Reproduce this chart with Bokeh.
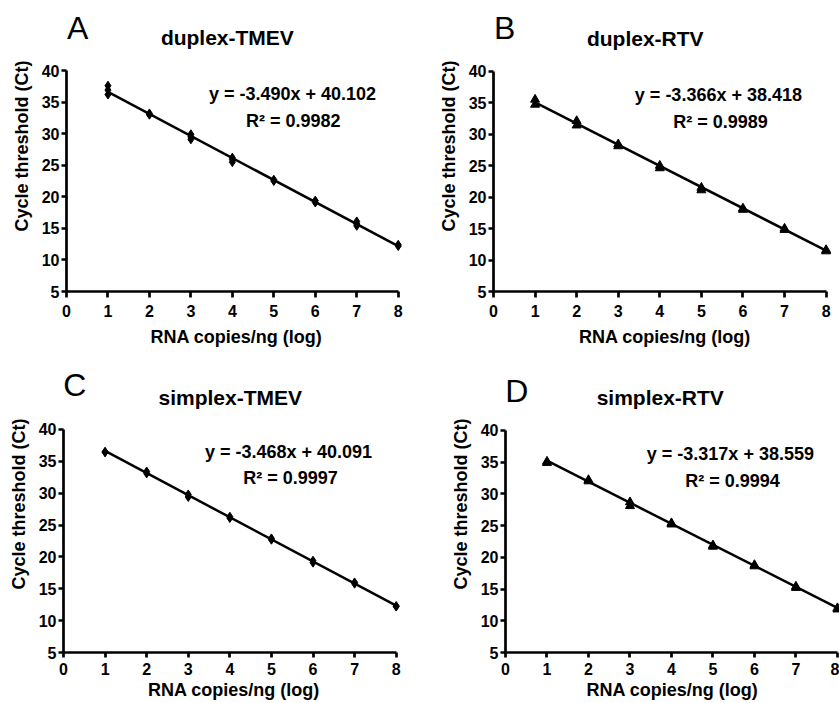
from bokeh.plotting import figure
from bokeh.models import Range1d, FixedTicker, Label
from bokeh.layouts import column, row
from bokeh.embed import file_html
from bokeh.resources import INLINE

# ---------------- data ----------------
letters = ["A", "B", "C", "D"]
titles = ["duplex-TMEV", "duplex-RTV", "simplex-TMEV", "simplex-RTV"]
slopes = [-3.490, -3.366, -3.468, -3.317]
intercepts = [40.102, 38.418, 40.091, 38.559]
r_squared = ["0.9982", "0.9989", "0.9997", "0.9994"]
markers = ["diamond", "triangle", "diamond", "triangle"]

a_x = [1, 1, 1, 2, 2, 3, 3, 3, 4, 4, 4, 5, 5, 6, 6, 7, 7, 7, 8, 8]
a_ct = [37.6, 36.9, 36.2, 33.2, 33.0, 29.9, 29.5, 29.1, 26.2, 25.9, 25.5,
        22.7, 22.5, 19.4, 19.1, 16.1, 15.7, 15.4, 12.4, 12.2]

b_x = [1, 1, 2, 2, 3, 3, 4, 4, 5, 5, 6, 6, 7, 7, 8, 8]
b_ct = [35.5, 34.7, 32.1, 31.4, 28.4, 28.1, 25.0, 24.6, 21.5, 21.1,
        18.2, 18.0, 15.0, 14.8, 11.6, 11.4]

c_x = [1, 1, 2, 2, 3, 3, 4, 4, 5, 5, 6, 6, 7, 7, 8, 8]
c_ct = [36.5, 36.4, 33.4, 33.1, 29.8, 29.4, 26.3, 26.1, 22.9, 22.7,
        19.4, 19.1, 16.0, 15.8, 12.3, 12.2]

d_x = [1, 1, 2, 2, 3, 3, 4, 4, 5, 5, 6, 6, 7, 7, 8, 8]
d_ct = [35.1, 34.9, 32.2, 32.0, 28.7, 28.1, 25.4, 25.2, 21.9, 21.7,
        18.8, 18.6, 15.4, 15.2, 12.0, 11.8]

x_ticks = [0, 1, 2, 3, 4, 5, 6, 7, 8]
y_ticks = [5, 10, 15, 20, 25, 30, 35, 40]
fit_x = [1, 8]

xs = [a_x, b_x, c_x, d_x]
cts = [a_ct, b_ct, c_ct, d_ct]

FONT = "Liberation Sans"

# layout: (width, height, left, right, bottom, x_end, y_top, bottom_row)
layouts = [
    (420, 355, 66, 14, 64, 8.2, 51.09, False),
    (419, 355, 73, 3, 63, 8.25, 51.24, False),
    (420, 348, 63, 16, 51, 8.2, 51.6, True),
    (419, 348, 85, 0, 51, 8.05, 51.82, True),
]
# text anchor positions in data coords: letter, title, equation, r2
text_pos = [
    ((0.27, 46.8), (3.88, 45.23), (5.45, 36.35), (5.47, 32.08)),
    ((0.27, 46.8), (3.65, 45.23), (5.41, 36.2), (5.46, 31.92)),
    ((0.27, 46.9), (4.01, 45.02), (5.41, 36.39), (5.46, 32.31)),
    ((0.27, 46.3), (3.73, 45.2), (5.42, 36.37), (5.47, 32.1)),
]


def make_panel(i):
    w, h, bl, br, bb, xend, ytop, bottom = layouts[i]
    p = figure(width=w, height=h, title=None,
               x_range=Range1d(0, xend), y_range=Range1d(5, ytop),
               output_backend="svg", toolbar_location=None,
               min_border_left=bl, min_border_right=br,
               min_border_top=0, min_border_bottom=bb)
    p.outline_line_color = None
    p.grid.visible = False
    p.background_fill_color = "white"
    p.border_fill_color = "white"

    for ax in (p.xaxis[0], p.yaxis[0]):
        ax.axis_line_width = 2.7
        ax.axis_line_color = "black"
        ax.major_tick_line_width = 2.7
        ax.major_tick_line_color = "black"
        ax.major_tick_in = 0
        ax.minor_tick_line_color = None
        ax.major_label_text_font = FONT
        ax.major_label_text_font_style = "bold"
        ax.major_label_text_font_size = "16px"
        ax.major_label_text_color = "black"
        ax.axis_label_text_font = FONT
        ax.axis_label_text_font_style = "bold"
        ax.axis_label_text_font_size = "18px"
        ax.axis_label_text_color = "black"

    p.xaxis.ticker = FixedTicker(ticks=x_ticks)
    p.yaxis.ticker = FixedTicker(ticks=y_ticks)
    p.xaxis.bounds = (0, 8)
    p.yaxis.bounds = (5, 40)
    p.xaxis.axis_label = "RNA copies/ng (log)"
    p.yaxis.axis_label = "Cycle threshold (Ct)"
    p.yaxis.major_tick_out = 5
    p.yaxis.major_label_standoff = 2
    p.yaxis.axis_label_standoff = 7
    if bottom:
        p.xaxis.major_tick_out = 5
        p.xaxis.major_label_standoff = 5
        p.xaxis.axis_label_standoff = 2
    else:
        p.xaxis.major_tick_out = 6
        p.xaxis.major_label_standoff = 7
        p.xaxis.axis_label_standoff = 7

    # regression line
    fit_y = [slopes[i] * v + intercepts[i] for v in fit_x]
    p.line(fit_x, fit_y, line_color="black", line_width=2.5)

    # points
    p.scatter(xs[i], cts[i], marker=markers[i], size=9,
              fill_color="black", line_color="black", line_width=1)

    (lx, ly), (tx, ty), (ex, ey), (rx, ry) = text_pos[i]
    p.add_layout(Label(x=lx, y=ly, text=letters[i], text_font=FONT,
                       text_font_size="32px", text_align="center",
                       text_baseline="middle", text_color="black"))
    p.add_layout(Label(x=tx, y=ty, text=titles[i], text_font=FONT,
                       text_font_size="21px", text_font_style="bold",
                       text_align="center", text_baseline="middle",
                       text_color="black"))
    sign = "+" if intercepts[i] >= 0 else "-"
    eq = "y = %.3fx %s %.3f" % (slopes[i], sign, abs(intercepts[i]))
    p.add_layout(Label(x=ex, y=ey, text=eq, text_font=FONT,
                       text_font_size="18px", text_font_style="bold",
                       text_align="center", text_baseline="middle",
                       text_color="black"))
    p.add_layout(Label(x=rx, y=ry, text="R\u00b2 = " + r_squared[i],
                       text_font=FONT, text_font_size="18px",
                       text_font_style="bold", text_align="center",
                       text_baseline="middle", text_color="black"))
    return p


panels = [make_panel(i) for i in range(4)]
layout = column(row(panels[0], panels[1]), row(panels[2], panels[3]))

open("out.html", "w").write(file_html(layout, INLINE))
